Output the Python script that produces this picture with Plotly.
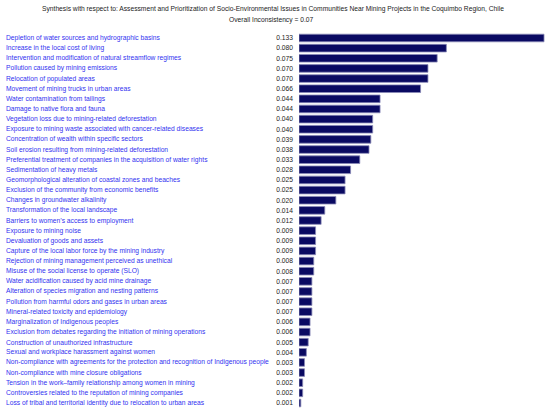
import plotly.graph_objects as go

# Issues, ordered from highest to lowest priority
issues = [
    "Depletion of water sources and hydrographic basins",
    "Increase in the local cost of living",
    "Intervention and modification of natural streamflow regimes",
    "Pollution caused by mining emissions",
    "Relocation of populated areas",
    "Movement of mining trucks in urban areas",
    "Water contamination from tailings",
    "Damage to native flora and fauna",
    "Vegetation loss due to mining-related deforestation",
    "Exposure to mining waste associated with cancer-related diseases",
    "Concentration of wealth within specific sectors",
    "Soil erosion resulting from mining-related deforestation",
    "Preferential treatment of companies in the acquisition of water rights",
    "Sedimentation of heavy metals",
    "Geomorphological alteration of coastal zones and beaches",
    "Exclusion of the community from economic benefits",
    "Changes in groundwater alkalinity",
    "Transformation of the local landscape",
    "Barriers to women\u2019s access to employment",
    "Exposure to mining noise",
    "Devaluation of goods and assets",
    "Capture of the local labor force by the mining industry",
    "Rejection of mining management perceived as unethical",
    "Misuse of the social license to operate (SLO)",
    "Water acidification caused by acid mine drainage",
    "Alteration of species migration and nesting patterns",
    "Pollution from harmful odors and gases in urban areas",
    "Mineral-related toxicity and epidemiology",
    "Marginalization of Indigenous peoples",
    "Exclusion from debates regarding the initiation of mining operations",
    "Construction of unauthorized infrastructure",
    "Sexual and workplace harassment against women",
    "Non-compliance with agreements for the protection and recognition of Indigenous people",
    "Non-compliance with mine closure obligations",
    "Tension in the work\u2013family relationship among women in mining",
    "Controversies related to the reputation of mining companies",
    "Loss of tribal and territorial identity due to relocation to urban areas",
]

weights = [
    0.133, 0.080, 0.075, 0.070, 0.070, 0.066, 0.044, 0.044, 0.040, 0.040,
    0.039, 0.038, 0.033, 0.028, 0.025, 0.025, 0.020, 0.014, 0.012, 0.009,
    0.009, 0.009, 0.008, 0.008, 0.007, 0.007, 0.007, 0.007, 0.006, 0.006,
    0.005, 0.004, 0.003, 0.003, 0.002, 0.002, 0.001,
]

title_main = ("Synthesis with respect to: Assessment and Prioritization of Socio-Environmental "
              "Issues in Communities Near Mining Projects in the Coquimbo Region, Chile")
title_sub = "Overall Inconsistency = 0.07"

W, H = 550, 413
M_L, M_R, M_T, M_B = 299, 5, 32, 4
plot_w = W - M_L - M_R
plot_h = H - M_T - M_B
FONT = "Liberation Sans, Arial, sans-serif"
FS = 6.7


def px_x(px):
    # page pixel -> paper x
    return (px - M_L) / plot_w


def px_y(py):
    # page pixel (from top) -> paper y
    return (H - M_B - py) / plot_h


fig = go.Figure()
fig.add_trace(go.Bar(
    x=weights,
    y=issues,
    orientation="h",
    marker=dict(color="#0a0a62", line=dict(color="#8a8ab8", width=0.8)),
    hoverinfo="x+y",
))

# issue names, left aligned at the far left of the page
annotations = []
for name in issues:
    annotations.append(dict(
        x=px_x(4), xref="paper", y=name, yref="y",
        text=name, showarrow=False, xanchor="left", yanchor="middle",
        font=dict(family=FONT, size=FS, color="#3232f0"),
    ))
annotations.append(dict(
    x=px_x(273), xref="paper", y=px_y(9), yref="paper",
    text=title_main, showarrow=False, xanchor="center", yanchor="middle",
    font=dict(family=FONT, size=FS, color="#222222"),
))
annotations.append(dict(
    x=px_x(271), xref="paper", y=px_y(19.5), yref="paper",
    text=title_sub, showarrow=False, xanchor="center", yanchor="middle",
    font=dict(family=FONT, size=FS, color="#222222"),
))

fig.update_layout(
    width=W, height=H,
    margin=dict(l=M_L, r=M_R, t=M_T, b=M_B, autoexpand=False),
    plot_bgcolor="white", paper_bgcolor="white",
    bargap=0.25,
    showlegend=False,
    annotations=annotations,
    xaxis=dict(range=[0, max(weights) * 1.004], visible=False, fixedrange=True),
    yaxis=dict(
        autorange="reversed",
        tickmode="array",
        tickvals=issues,
        ticktext=["%.3f" % v for v in weights],
        tickfont=dict(family=FONT, size=FS, color="#222222"),
        ticks="", showgrid=False, zeroline=False, showline=False,
        ticklabelstandoff=5,
        automargin=False,
        fixedrange=True,
    ),
)

fig.write_html(
    "out.html",
    config={"displayModeBar": False},
    post_script="document.body.style.margin='0';document.body.style.overflow='hidden';",
)
